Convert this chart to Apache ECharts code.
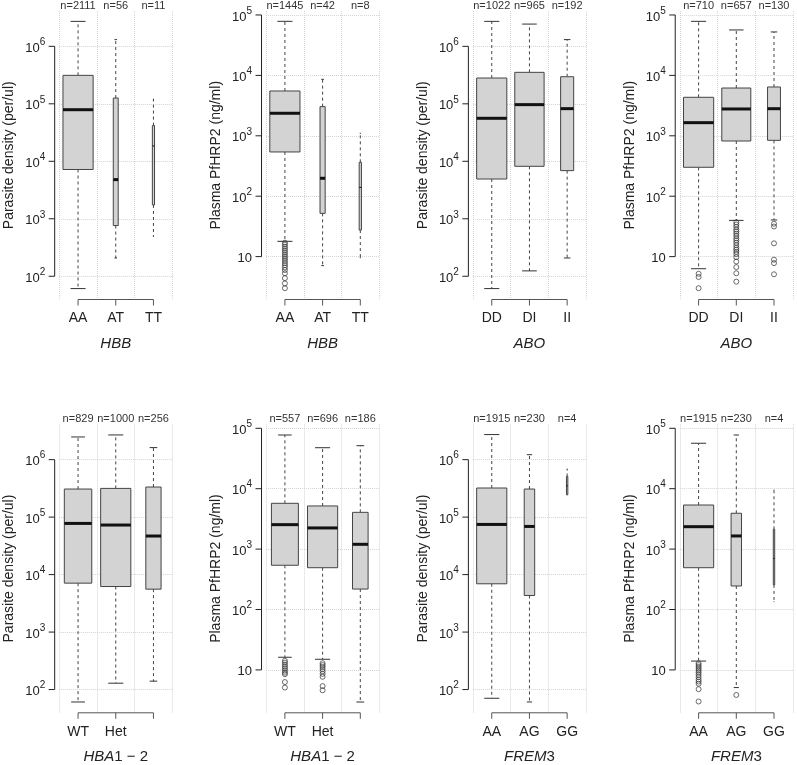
<!DOCTYPE html>
<html>
<head>
<meta charset="utf-8">
<script src="https://cdn.jsdelivr.net/npm/echarts@6/dist/echarts.min.js"></script>
<style>
  html, body { margin: 0; padding: 0; background: #fff; }
  #main { width: 797px; height: 765px; }
</style>
</head>
<body>
<div id="main"></div>
<script>
// genotype categories
var hbbGeno = ['AA', 'AT', 'TT'];
var aboGeno = ['DD', 'DI', 'II'];
var hbaGeno = ['WT', 'Het', ''];
var fremGeno = ['AA', 'AG', 'GG'];

// box stats: [lower whisker, Q1, median, Q3, upper whisker]
var hbbDensity = [[61, 7.2e3, 7.9e4, 3.13e5, 2.72e6], [208, 762, 4.8e3, 1.26e5, 1.31e6], [497, 1.74e3, 1.85e4, 4.18e4, 1.2e5]];
var hbbDensityN = [2111, 56, 11];
var hbbDensityOut = [[], [], []];

var hbbHrp2 = [[17.9, 540, 2.36e3, 5.52e3, 7.85e4], [7.1, 52, 198, 3.04e3, 8.6e3], [9.6, 27.5, 140, 364, 1.1e3]];
var hbbHrp2N = [1445, 42, 8];
var hbbHrp2Out = [[17, 15.8, 14.6, 13.5, 12.5, 11.6, 10.7, 9.9, 9.2, 8.5, 7.8, 7.2, 6.6, 6.0, 5.3, 4.4, 3.6, 3.0], [], []];

var aboDensity = [[61, 4.92e3, 5.6e4, 2.81e5, 2.72e6], [124, 8.18e3, 9.68e4, 3.53e5, 2.44e6], [208, 6.88e3, 8.24e4, 2.96e5, 1.31e6]];
var aboDensityN = [1022, 965, 192];
var aboDensityOut = [[], [], []];

var aboHrp2 = [[6.3, 301, 1.65e3, 4.34e3, 7.85e4], [39.8, 820, 2.78e3, 6.18e3, 5.65e4], [40.4, 841, 2.81e3, 6.43e3, 5.24e4]];
var aboHrp2N = [710, 657, 130];
var aboHrp2Out = [[5.2, 4.6, 3.0],
  [37, 34, 31, 28, 26, 24, 22, 20, 18.5, 17, 15.5, 14, 13, 12, 11, 9.8, 8.3, 6.7, 5.3, 3.85],
  [35, 31.5, 16.6, 8.9, 7.8, 5.1]];

var hbaDensity = [[60.8, 7.1e3, 7.77e4, 3.08e5, 2.48e6], [129, 6.2e3, 7.28e4, 3.16e5, 2.69e6], [140, 5.58e3, 4.69e4, 3.34e5, 1.62e6]];
var hbaDensityN = [829, 1000, 256];
var hbaDensityOut = [[], [], []];

var hbaHrp2 = [[16.2, 540, 2.54e3, 5.73e3, 7.74e4], [15, 492, 2.24e3, 5.18e3, 4.77e4], [2.94, 218, 1.2e3, 4.06e3, 5.15e4]];
var hbaHrp2N = [557, 696, 186];
var hbaHrp2Out = [[14.2, 13.2, 12.2, 11.3, 10.5, 9.7, 9.0, 8.5, 6.3, 5.1],
  [12.9, 12.0, 11.2, 10.3, 9.5, 8.6, 7.7, 5.4, 4.6], []];

var fremDensity = [[70.5, 6.92e3, 7.46e4, 3.21e5, 2.73e6], [60.8, 4.33e3, 6.88e4, 3.08e5, 1.22e6], [2.45e5, 2.45e5, 3.5e5, 5.1e5, 6.9e5]];
var fremDensityN = [1915, 230, 4];
var fremDensityOut = [[], [], []];

var fremHrp2 = [[14, 492, 2.35e3, 5.37e3, 5.65e4], [5.1, 245, 1.65e3, 3.92e3, 7.74e4], [135, 255, 700, 2.13e3, 9.5e3]];
var fremHrp2N = [1915, 230, 4];
var fremHrp2Out = [[12.9, 12.0, 11.2, 10.4, 9.7, 9.0, 8.3, 7.6, 6.9, 6.4, 5.9, 4.8, 3.0], [3.85], []];

// y axis ticks and ranges
var densityTicks = [1e2, 1e3, 1e4, 1e5, 1e6];
var hrp2Ticks = [10, 1e2, 1e3, 1e4, 1e5];
var densityRange = [39.4, 4.12e6];
var hrp2Range = [1.95, 1.164e5];

var densityTitle = 'Parasite density (per/ul)';
var hrp2Title = 'Plasma PfHRP2 (ng/ml)';

var panels = [
  {geno: hbbGeno, stats: hbbDensity, n: hbbDensityN, out: hbbDensityOut, gene: '{i|HBB}', kind: 'd'},
  {geno: hbbGeno, stats: hbbHrp2, n: hbbHrp2N, out: hbbHrp2Out, gene: '{i|HBB}', kind: 'h'},
  {geno: aboGeno, stats: aboDensity, n: aboDensityN, out: aboDensityOut, gene: '{i|ABO}', kind: 'd'},
  {geno: aboGeno, stats: aboHrp2, n: aboHrp2N, out: aboHrp2Out, gene: '{i|ABO}', kind: 'h'},
  {geno: hbaGeno, stats: hbaDensity, n: hbaDensityN, out: hbaDensityOut, gene: '{i|HBA}{r|1 − 2}', kind: 'd'},
  {geno: hbaGeno, stats: hbaHrp2, n: hbaHrp2N, out: hbaHrp2Out, gene: '{i|HBA}{r|1 − 2}', kind: 'h'},
  {geno: fremGeno, stats: fremDensity, n: fremDensityN, out: fremDensityOut, gene: '{i|FREM}{r|3}', kind: 'd'},
  {geno: fremGeno, stats: fremHrp2, n: fremHrp2N, out: fremHrp2Out, gene: '{i|FREM}{r|3}', kind: 'h'}
];

var FONT = "'Liberation Sans', Arial, Helvetica, sans-serif";
var INK = '#222';
var GRIDLINE = {type: 'dotted', color: '#d4d4d4', width: 1};

function line(x1, y1, x2, y2, color) {
  return {type: 'line', shape: {x1: x1, y1: y1, x2: x2, y2: y2}, style: {stroke: color, lineWidth: 1}};
}

// R-style varwidth box: width ~ sqrt(n), dashed whiskers, half-width staples
function renderBox(maxN, ncat) {
  return function (params, api) {
    var cat = api.value(0);
    var band = params.coordSys.width / ncat;
    var x = api.coord([cat, api.value(3)])[0];
    var half = 0.4 * band * Math.sqrt(api.value(6) / maxN);
    var yLow = api.coord([cat, api.value(1)])[1];
    var yQ1 = api.coord([cat, api.value(2)])[1];
    var yMed = api.coord([cat, api.value(3)])[1];
    var yQ3 = api.coord([cat, api.value(4)])[1];
    var yHigh = api.coord([cat, api.value(5)])[1];
    var dash = {stroke: '#444', lineWidth: 1, lineDash: [3, 3]};
    return {
      type: 'group',
      children: [
        {type: 'line', shape: {x1: x, y1: yQ3, x2: x, y2: yHigh}, style: dash},
        {type: 'line', shape: {x1: x, y1: yQ1, x2: x, y2: yLow}, style: dash},
        line(x - half / 2, yHigh, x + half / 2, yHigh, '#333'),
        line(x - half / 2, yLow, x + half / 2, yLow, '#333'),
        {type: 'rect', shape: {x: x - half, y: yQ3, width: 2 * half, height: yQ1 - yQ3},
          style: {fill: '#d3d3d3', stroke: '#444', lineWidth: 1}},
        {type: 'line', shape: {x1: x - half, y1: yMed, x2: x + half, y2: yMed},
          style: {stroke: '#111', lineWidth: half < 2 ? 1 : 3}}
      ]
    };
  };
}

// R-style axes: y spine between first and last tick, x bracket between first and last category
function renderFrame(ticks, ncat) {
  return function (params, api) {
    var cs = params.coordSys;
    var band = cs.width / ncat;
    var sx = cs.x - 0.12 * band;
    var kids = [];
    var yTop = api.coord([0, ticks[ticks.length - 1]])[1];
    var yBot = api.coord([0, ticks[0]])[1];
    kids.push(line(sx, yTop, sx, yBot, INK));
    ticks.forEach(function (t) {
      var y = api.coord([0, t])[1];
      kids.push(line(sx - 6, y, sx, y, INK));
    });
    var by = cs.y + cs.height;
    var x0 = api.coord([0, ticks[0]])[0];
    var x1 = api.coord([ncat - 1, ticks[0]])[0];
    kids.push(line(x0, by, x1, by, '#555'));
    for (var c = 0; c < ncat; c++) {
      var xc = api.coord([c, ticks[0]])[0];
      kids.push(line(xc, by, xc, by + 6, '#555'));
    }
    return {type: 'group', children: kids};
  };
}

function logLabel(v) {
  var e = Math.log10(v), r = Math.round(e);
  if (Math.abs(e - r) > 1e-6) return '';
  return r === 1 ? '{b|10}' : '{b|10}{s|' + r + '}';
}

var grids = [], xAxes = [], yAxes = [], series = [];

panels.forEach(function (p, i) {
  var col = i % 4, row = Math.floor(i / 4);
  var isD = p.kind === 'd';
  var ticks = isD ? densityTicks : hrp2Ticks;
  var range = isD ? densityRange : hrp2Range;
  var ncat = p.geno.length;
  var maxN = Math.max.apply(null, p.n);

  grids.push({left: 59.2 + col * 206.85, top: row ? 424.3 : 11, width: 113.1, height: 288.5,
    outerBoundsMode: 'none', containLabel: false});

  xAxes.push({
    type: 'category', gridIndex: i, data: p.geno, boundaryGap: true, position: 'bottom',
    axisLine: {show: false}, axisTick: {show: false},
    axisLabel: {interval: 0, margin: 12, fontSize: 14, color: INK, fontFamily: FONT},
    splitLine: {show: true, lineStyle: GRIDLINE},
    name: p.gene, nameLocation: 'middle', nameGap: 37,
    nameTextStyle: {rich: {
      i: {fontSize: 15, fontStyle: 'italic', color: INK, fontFamily: FONT},
      r: {fontSize: 15, color: INK, fontFamily: FONT}
    }}
  });
  xAxes.push({
    type: 'category', gridIndex: i, position: 'top', boundaryGap: true,
    data: p.n.map(function (v) { return 'n=' + v; }),
    axisLine: {show: false}, axisTick: {show: false}, splitLine: {show: false},
    axisLabel: {interval: 0, margin: 0, fontSize: 11, color: '#333', fontFamily: FONT}
  });

  yAxes.push({
    type: 'log', logBase: 10, gridIndex: i, min: range[0], max: range[1],
    axisLine: {show: false}, axisTick: {show: false},
    splitLine: {show: true, showMinLine: false, showMaxLine: false, lineStyle: GRIDLINE},
    axisLabel: {
      margin: 14, formatter: logLabel,
      rich: {
        b: {fontSize: 13, color: INK, fontFamily: FONT, padding: [4, 0, 0, 0]},
        s: {fontSize: 10, color: INK, fontFamily: FONT, padding: [0, 0, 8, 0]}
      }
    },
    name: isD ? densityTitle : hrp2Title, nameLocation: 'middle', nameGap: 43,
    nameTextStyle: {fontSize: 14, color: INK, fontFamily: FONT}
  });

  series.push({
    type: 'custom', xAxisIndex: 2 * i, yAxisIndex: i, silent: true,
    renderItem: renderBox(maxN, ncat),
    data: p.stats.map(function (s, c) { return [c].concat(s).concat([p.n[c]]); })
  });

  var pts = [];
  p.out.forEach(function (list, c) {
    list.forEach(function (v) { pts.push([c, v]); });
  });
  series.push({
    type: 'scatter', xAxisIndex: 2 * i, yAxisIndex: i, silent: true,
    symbol: 'circle', symbolSize: 5,
    itemStyle: {color: 'rgba(0,0,0,0)', borderColor: '#333', borderWidth: 0.9},
    data: pts
  });

  series.push({
    type: 'custom', xAxisIndex: 2 * i, yAxisIndex: i, silent: true,
    renderItem: renderFrame(ticks, ncat),
    data: [[0, ticks[0]]]
  });
});

var chart = echarts.init(document.getElementById('main'), null, {renderer: 'canvas'});
chart.setOption({
  backgroundColor: '#fff',
  animation: false,
  grid: grids,
  xAxis: xAxes,
  yAxis: yAxes,
  series: series
});
</script>
</body>
</html>
